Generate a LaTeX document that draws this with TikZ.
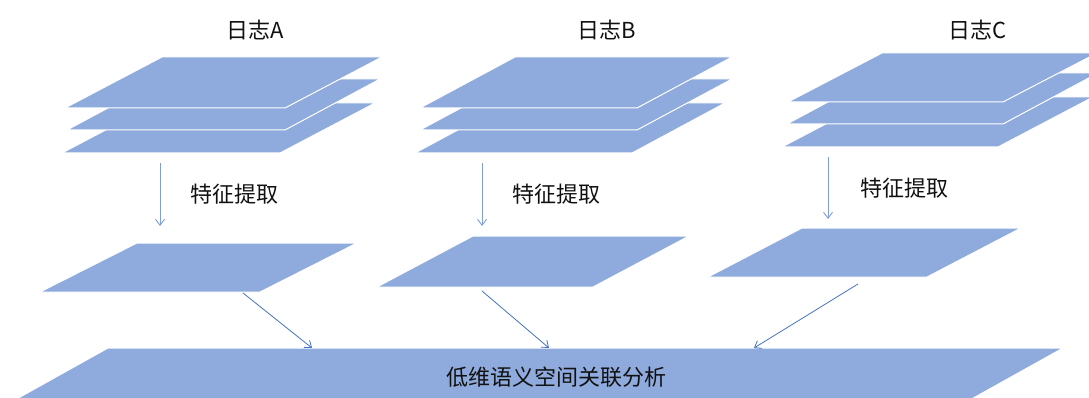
\documentclass[tikz,border=0pt]{standalone}
\usepackage{fontspec}
\setmainfont{Noto Sans CJK SC}
\usetikzlibrary{arrows.meta}
\definecolor{planefill}{HTML}{8FAADC}
\definecolor{arrowblue}{HTML}{4472C4}
\definecolor{lightarrow}{HTML}{7F9DD8}
\definecolor{txt}{HTML}{111111}
\tikzset{
  plane/.style={fill=planefill, draw=white, line width=1pt, line join=miter},
  lbl/.style={text=txt, font=\fontsize{22}{26}\selectfont, inner sep=0pt},
  downarrow/.style={draw=lightarrow, line width=0.9pt, -{Straight Barb[length=6pt,width=9pt]}},
  diagarrow/.style={draw=arrowblue, line width=0.8pt, -{Straight Barb[length=6pt,width=9pt]}}
}
% \planeat{bottom-left x}{bottom y}{width}{top offset}{height}
\newcommand{\planeat}[5]{%
  \path[plane] (#1,#2) -- ++(#3,0) -- ++(#4,-#5) -- ++(-#3,0) -- cycle;}
\begin{document}
\begin{tikzpicture}[x=1pt,y=-1pt]
\useasboundingbox (0,0) rectangle (1089,398);
\begin{scope}
\clip (0,0) rectangle (1089,398);
% stack A
\planeat{62}{153}{218}{95}{50}
\planeat{67}{130}{218}{95}{51}
\planeat{65}{108}{220}{97}{51}
% stack B
\planeat{415}{153}{217}{93}{50}
\planeat{420}{130}{217}{95}{51}
\planeat{420}{108}{217}{95}{51}
% stack C
\planeat{782}{147}{216}{95}{50}
\planeat{787}{124}{216}{95}{51}
\planeat{788}{102}{215}{94}{49}
% middle planes
\planeat{40}{292}{220}{97}{49}
\planeat{377}{287}{216}{96}{51}
\planeat{708}{277}{219}{94}{49}
% big plane
\planeat{13}{401}{955}{95}{53}
\end{scope}
% labels
\node[lbl] (logA) at (255,30) {日志A};
\node[lbl] (logB) at (607,30) {日志B};
\node[lbl] (logC) at (978,30) {日志C};
\node[lbl] (featA) at (234,194) {特征提取};
\node[lbl] (featB) at (556,194) {特征提取};
\node[lbl] (featC) at (904,188) {特征提取};
\node[lbl] (analysis) at (556,377) {低维语义空间关联分析};
% arrow endpoints
\coordinate (aS) at (160,163); \coordinate (aE) at (160,226);
\coordinate (bS) at (482,163); \coordinate (bE) at (482,226);
\coordinate (cS) at (828,157); \coordinate (cE) at (828,219);
\coordinate (adS) at (243,293); \coordinate (adE) at (312,348);
\coordinate (bdS) at (482,291); \coordinate (bdE) at (549,348);
\coordinate (cdS) at (858,284); \coordinate (cdE) at (754,348);
\draw[downarrow] (aS) -- (aE);
\draw[downarrow] (bS) -- (bE);
\draw[downarrow] (cS) -- (cE);
\draw[diagarrow] (adS) -- (adE);
\draw[diagarrow] (bdS) -- (bdE);
\draw[diagarrow] (cdS) -- (cdE);
\end{tikzpicture}
\end{document}
